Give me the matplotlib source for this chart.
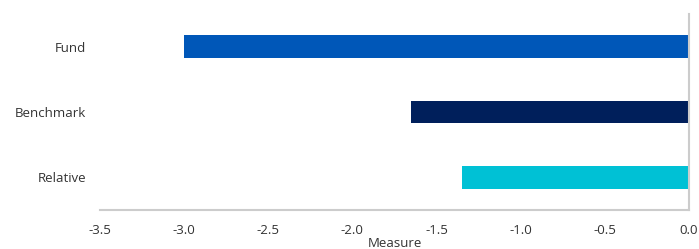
import matplotlib
matplotlib.use("Agg")
import matplotlib.pyplot as plt

plt.rcParams['font.family'] = ['Open Sans', 'DejaVu Sans']

categories = ['Fund', 'Benchmark', 'Relative']
values = [-3.0, -1.65, -1.35]
colors = ['#0057b8', '#001f5b', '#00c1d5']
xticks = [-3.5, -3.0, -2.5, -2.0, -1.5, -1.0, -0.5, 0.0]

fig = plt.figure(figsize=(6.99, 2.49), dpi=100)
ax = fig.add_axes([0.143, 0.1566, 0.8427, 0.7872])

ax.barh(categories, values, height=0.35, color=colors)
ax.set_ylim(2.5, -0.5)
ax.set_xlim(-3.5, 0.0)
ax.set_xticks(xticks)
ax.set_xticklabels([f"{t:.1f}" for t in xticks])

for s in ['top', 'left']:
    ax.spines[s].set_visible(False)
for s in ['bottom', 'right']:
    ax.spines[s].set_color('#cccccc')
    ax.spines[s].set_linewidth(1.5)

ax.tick_params(length=0, labelsize=9.5, colors='#333333', pad=10)
ax.tick_params(axis='y', pad=10)
ax.set_xlabel('Measure', fontsize=9.5, color='#333333', labelpad=0)

fig.savefig('out.png', dpi=100)
